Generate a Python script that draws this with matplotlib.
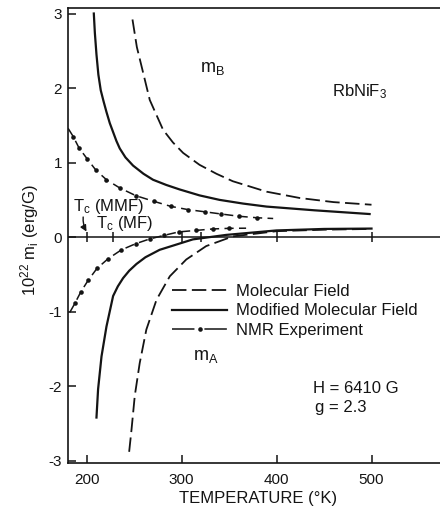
import matplotlib
matplotlib.use("Agg")
import matplotlib.pyplot as plt
from matplotlib.lines import Line2D

plt.rcParams['font.family'] = ['Liberation Sans', 'DejaVu Sans']
plt.rcParams['axes.unicode_minus'] = False
plt.rcParams['mathtext.default'] = 'regular'

INK = '#141414'

# ---- m_B branch (upper) ----
mf_B_T = [248.4, 253, 258, 266.6, 280.6, 291, 301.7, 319, 336.8, 354, 389.5, 424.5, 460, 500]
mf_B_m = [2.92, 2.55, 2.29, 1.84, 1.44, 1.27, 1.13, 0.97, 0.85, 0.75, 0.61, 0.525, 0.47, 0.435]

mmf_B_T = [207.7, 208.8, 210.5, 212.5, 215, 218, 221, 224.5, 228, 231.5, 235, 241, 249, 260, 270, 284, 298, 319, 340, 365, 389.5, 440, 498]
mmf_B_m = [3.00, 2.74, 2.45, 2.18, 1.97, 1.82, 1.68, 1.53, 1.41, 1.29, 1.19, 1.07, 0.96, 0.85, 0.77, 0.70, 0.64, 0.56, 0.50, 0.45, 0.41, 0.36, 0.31]

nmr_B_T = [186, 192, 200.7, 209.8, 221, 235, 252, 271, 288.7, 306.6, 324.5, 342, 360.6, 379.6]
nmr_B_m = [1.35, 1.20, 1.05, 0.90, 0.77, 0.66, 0.556, 0.48, 0.413, 0.37, 0.34, 0.31, 0.28, 0.26]
nmr_B_ends_T = [180.6, 396.5]
nmr_B_ends_m = [1.46, 0.25]

# ---- m_A branch (lower) ----
mf_A_T = [244.9, 247.4, 250.8, 256, 263, 273.7, 287.7, 305, 326, 354, 400, 450, 500]
mf_A_m = [-2.88, -2.58, -2.13, -1.69, -1.24, -0.84, -0.525, -0.30, -0.12, 0.01, 0.08, 0.10, 0.11]

mmf_A_T = [210.5, 212.2, 215.8, 221, 228, 233, 238.5, 245, 252.6, 262, 277, 312, 347, 400, 450, 500]
mmf_A_m = [-2.42, -2.04, -1.60, -1.20, -0.79, -0.66, -0.55, -0.45, -0.36, -0.27, -0.17, -0.03, 0.03, 0.09, 0.11, 0.115]

nmr_A_T = [187.7, 194, 201.7, 211, 222.7, 236.8, 252, 266.6, 281.7, 297, 315, 333, 350]
nmr_A_m = [-0.89, -0.735, -0.58, -0.42, -0.29, -0.17, -0.087, -0.024, 0.024, 0.07, 0.09, 0.11, 0.118]
nmr_A_ends_T = [182.4, 368]
nmr_A_ends_m = [-1.01, 0.12]

# ticks
x_ticks = [200, 300, 400, 500]
y_ticks = [-3, -2, -1, 0, 1, 2, 3]
zero_line_ticks = [200, 228, 300, 321, 400, 500]

MF_DASH = (0, (8, 3))
NMR_DASH = (0, (6, 3.5))

fig = plt.figure(figsize=(4.4, 5.08), dpi=100)
ax = fig.add_axes([67.5 / 440, 45 / 508, 399 / 440, 454.7 / 508])
ax.set_xlim(180, 600)
ax.set_ylim(-3.03, 3.07)

for s in ['left', 'bottom', 'top']:
    ax.spines[s].set_linewidth(1.2)
    ax.spines[s].set_color(INK)
ax.spines['right'].set_visible(False)

ax.set_xticks(x_ticks)
ax.set_yticks(y_ticks)
ax.tick_params(direction='in', length=6, width=1.1, color=INK, labelcolor=INK,
               labelsize=11, top=False, right=False)
ax.tick_params(axis='x', pad=7)
ax.tick_params(axis='y', pad=4)

# zero line with its own ticks
ax.axhline(0, color=INK, lw=1.1, zorder=1)
ax.vlines(zero_line_ticks, -0.065, 0.065, color=INK, lw=1.1)


def with_ends(T, m, ends_T, ends_m):
    T_all = [ends_T[0]] + list(T) + [ends_T[1]]
    m_all = [ends_m[0]] + list(m) + [ends_m[1]]
    return T_all, m_all


# molecular field
ax.plot(mf_B_T, mf_B_m, color=INK, lw=1.3, ls=MF_DASH)
ax.plot(mf_A_T, mf_A_m, color=INK, lw=1.3, ls=MF_DASH)
# modified molecular field
ax.plot(mmf_B_T, mmf_B_m, color=INK, lw=1.6)
ax.plot(mmf_A_T, mmf_A_m, color=INK, lw=1.6)
# NMR experiment
for T, m, eT, em in [(nmr_B_T, nmr_B_m, nmr_B_ends_T, nmr_B_ends_m),
                     (nmr_A_T, nmr_A_m, nmr_A_ends_T, nmr_A_ends_m)]:
    Ta, ma = with_ends(T, m, eT, em)
    ax.plot(Ta, ma, color=INK, lw=1.1, ls=NMR_DASH)
    ax.plot(T, m, 'o', color=INK, ms=3.3, mec='none')

# legend
handles = [
    Line2D([], [], color=INK, lw=1.3, ls=(0, (8, 3))),
    Line2D([], [], color=INK, lw=1.6),
    Line2D([], [], color=INK, lw=1.1, ls=(0, (14.7, 6.5)), marker='o', ms=3.3,
           mec='none'),
]
labels = ['Molecular Field', 'Modified Molecular Field', 'NMR Experiment']
leg = ax.legend(handles, labels, loc='upper left', bbox_to_anchor=(0.2625, 0.393),
                frameon=False, fontsize=12, handlelength=3.3, handletextpad=0.55,
                labelspacing=0.25, borderpad=0, borderaxespad=0, numpoints=1)
for t in leg.get_texts():
    t.set_color(INK)

# annotations
ax.text(319.3, 2.22, r'm$_B$', fontsize=13, color=INK, ha='left', va='baseline')
ax.text(311.9, -1.65, r'm$_A$', fontsize=13, color=INK, ha='left', va='baseline')
ax.text(458, 1.885, r'RbNiF$_3$', fontsize=12, color=INK, ha='left', va='baseline')
ax.text(438, -2.095, 'H = 6410 G', fontsize=12, color=INK, ha='left', va='baseline')
ax.text(440, -2.34, 'g = 2.3', fontsize=12, color=INK, ha='left', va='baseline')
ax.text(185.3, 0.356, r'T$_c$ (MMF)', fontsize=12, color=INK, ha='left', va='baseline')
ax.text(210.5, 0.123, r'T$_c$ (MF)', fontsize=12, color=INK, ha='left', va='baseline')
ax.annotate('', xy=(200, 0.075), xytext=(196.5, 0.27),
            arrowprops=dict(arrowstyle='-|>', color=INK, lw=1.0, mutation_scale=9,
                            shrinkA=0, shrinkB=0, connectionstyle='arc3,rad=0.15'))

fig.text(258 / 440, 1 - 498 / 508, 'TEMPERATURE (°K)', fontsize=12, color=INK,
         ha='center', va='center')
fig.text(30 / 440, 1 - 240 / 508, r'10$^{22}$ m$_i$ (erg/G)', fontsize=12, color=INK,
         ha='center', va='center', rotation=90)

fig.savefig('out.png', dpi=100, facecolor='white')
